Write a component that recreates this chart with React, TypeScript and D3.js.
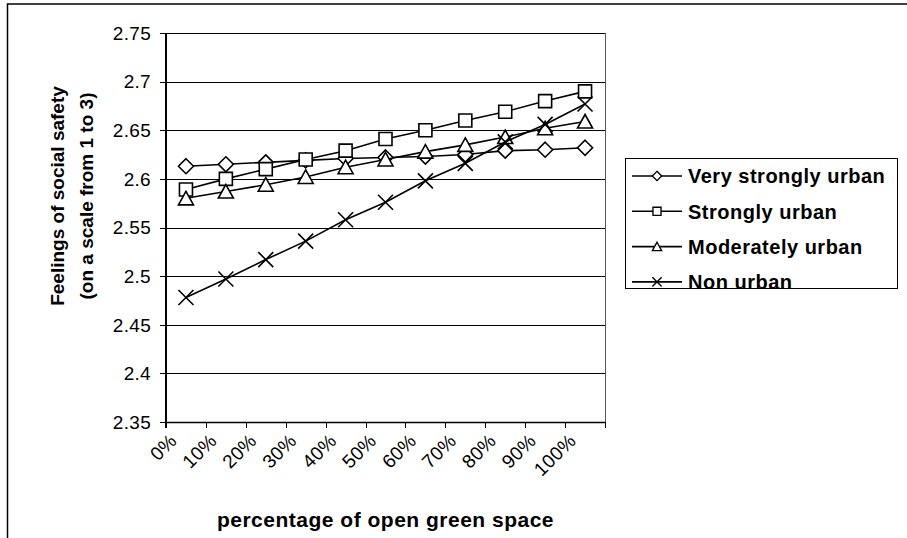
import React, { useEffect, useRef } from 'react';
import * as d3 from 'd3';

// categories on the x axis
const categories = ['0%', '10%', '20%', '30%', '40%', '50%', '60%', '70%', '80%', '90%', '100%'];

// series values
const veryStronglyUrban = [2.613, 2.615, 2.617, 2.619, 2.621, 2.622, 2.623, 2.625, 2.629, 2.630, 2.632];
const stronglyUrban = [2.589, 2.600, 2.610, 2.620, 2.629, 2.641, 2.650, 2.660, 2.669, 2.680, 2.690];
const moderatelyUrban = [2.580, 2.587, 2.594, 2.602, 2.612, 2.620, 2.628, 2.635, 2.643, 2.652, 2.659];
const nonUrban = [2.478, 2.497, 2.517, 2.536, 2.558, 2.576, 2.598, 2.616, 2.638, 2.656, 2.677];

const seriesNames = ['Very strongly urban', 'Strongly urban', 'Moderately urban', 'Non urban'];
const yTicks = [2.35, 2.4, 2.45, 2.5, 2.55, 2.6, 2.65, 2.7, 2.75];

const FONT = '"Liberation Sans", Arial, sans-serif';

// marker shapes as path strings, centred on 0,0
function markerPath(type: string) {
    if (type === 'diamond') return 'M0,-7.5L7.5,0L0,7.5L-7.5,0Z';
    if (type === 'square') return 'M-6.5,-6.5H6.5V6.5H-6.5Z';
    if (type === 'triangle') return 'M0,-7L7.5,6.5H-7.5Z';
    return 'M-7.5,-7.5L7.5,7.5M7.5,-7.5L-7.5,7.5';
}

export default function App() {
    const ref = useRef<SVGSVGElement>(null);

    useEffect(() => {
        const svg = d3.select(ref.current);
        svg.selectAll('*').remove();

        const left = 166, right = 605, top = 33, bottom = 422;

        const series = [
            { name: seriesNames[0], values: veryStronglyUrban, marker: 'diamond' },
            { name: seriesNames[1], values: stronglyUrban, marker: 'square' },
            { name: seriesNames[2], values: moderatelyUrban, marker: 'triangle' },
            { name: seriesNames[3], values: nonUrban, marker: 'x' }
        ];

        const xScale = d3.scaleBand().domain(categories).range([left, right]).padding(0);
        const yScale = d3.scaleLinear().domain([2.35, 2.75]).range([bottom, top]);
        const cx = (c: string) => (xScale(c) as number) + xScale.bandwidth() / 2;

        // outer chart border (only left and top are visible)
        svg.append('rect')
            .attr('x', 7.5).attr('y', 4)
            .attr('width', 950).attr('height', 600)
            .attr('fill', 'white')
            .attr('stroke', '#000')
            .attr('stroke-width', 1.5);

        // grid lines
        svg.append('g')
            .selectAll('line')
            .data(yTicks)
            .enter()
            .append('line')
            .attr('x1', left - 6)
            .attr('x2', right)
            .attr('y1', d => Math.round(yScale(d)) + 0.5)
            .attr('y2', d => Math.round(yScale(d)) + 0.5)
            .attr('stroke', '#000')
            .attr('stroke-width', 1);

        // right edge of plot
        svg.append('line')
            .attr('x1', right + 0.5).attr('x2', right + 0.5)
            .attr('y1', top).attr('y2', bottom)
            .attr('stroke', '#555');

        // y axis line
        svg.append('line')
            .attr('x1', left).attr('x2', left)
            .attr('y1', top).attr('y2', bottom + 6)
            .attr('stroke', '#000')
            .attr('stroke-width', 2);

        // x axis line and ticks
        svg.append('line')
            .attr('x1', left).attr('x2', right)
            .attr('y1', bottom + 0.5).attr('y2', bottom + 0.5)
            .attr('stroke', '#000')
            .attr('stroke-width', 1.5);

        svg.append('g')
            .selectAll('line')
            .data(categories.slice(1).concat(['end']))
            .enter()
            .append('line')
            .attr('x1', (d, i) => Math.round(left + xScale.bandwidth() * (i + 1)) + 0.5)
            .attr('x2', (d, i) => Math.round(left + xScale.bandwidth() * (i + 1)) + 0.5)
            .attr('y1', bottom)
            .attr('y2', bottom + 6)
            .attr('stroke', '#000');

        // y tick labels
        svg.append('g')
            .selectAll('text')
            .data(yTicks)
            .enter()
            .append('text')
            .attr('x', 151)
            .attr('y', d => yScale(d))
            .attr('dy', '0.36em')
            .attr('text-anchor', 'end')
            .attr('font-family', FONT)
            .attr('font-size', 19)
            .attr('letter-spacing', 0.3)
            .text(d => String(d));

        // x tick labels, rotated
        svg.append('g')
            .selectAll('text')
            .data(categories)
            .enter()
            .append('text')
            .attr('transform', d => 'translate(' + (cx(d) - 8) + ',' + 442 + ') rotate(-45)')
            .attr('text-anchor', 'end')
            .attr('font-family', FONT)
            .attr('font-size', 19)
            .attr('letter-spacing', 0.3)
            .text(d => d);

        // axis titles
        svg.append('text')
            .attr('x', (left + right) / 2)
            .attr('y', 527)
            .attr('text-anchor', 'middle')
            .attr('font-family', FONT)
            .attr('font-weight', 'bold')
            .attr('font-size', 21)
            .attr('letter-spacing', 0.5)
            .text('percentage of open green space');

        const yTitle = svg.append('text')
            .attr('transform', 'translate(64,196) rotate(-90)')
            .attr('text-anchor', 'middle')
            .attr('font-family', FONT)
            .attr('font-weight', 'bold')
            .attr('font-size', 19);
        yTitle.append('tspan').attr('x', 0).attr('y', 0).text('Feelings of social safety');
        yTitle.append('tspan').attr('x', 0).attr('y', 29).text('(on a scale from 1 to 3)');

        // series lines and markers
        const line = d3.line<number>()
            .x((d, i) => cx(categories[i]))
            .y(d => yScale(d));

        series.forEach(s => {
            const g = svg.append('g');
            g.append('path')
                .attr('d', line(s.values))
                .attr('fill', 'none')
                .attr('stroke', '#000')
                .attr('stroke-width', 1.6);
            g.selectAll('.marker')
                .data(s.values)
                .enter()
                .append('path')
                .attr('class', 'marker')
                .attr('d', markerPath(s.marker))
                .attr('transform', (d, i) => 'translate(' + cx(categories[i]) + ',' + yScale(d) + ')')
                .attr('fill', s.marker === 'x' ? 'none' : 'white')
                .attr('stroke', '#000')
                .attr('stroke-width', 1.6);
        });

        // legend
        const legend = svg.append('g');
        legend.append('rect')
            .attr('x', 625.5).attr('y', 158.5)
            .attr('width', 272).attr('height', 130)
            .attr('fill', 'white')
            .attr('stroke', '#000');

        series.forEach((s, i) => {
            const y = 176 + i * 35.3;
            legend.append('line')
                .attr('x1', 632).attr('x2', 682)
                .attr('y1', y).attr('y2', y)
                .attr('stroke', '#000')
                .attr('stroke-width', 1.6);
            legend.append('path')
                .attr('d', markerPath(s.marker))
                .attr('transform', 'translate(657,' + y + ') scale(0.62)')
                .attr('fill', s.marker === 'x' ? 'none' : 'white')
                .attr('stroke', '#000')
                .attr('stroke-width', 2.2);
            legend.append('text')
                .attr('x', 688)
                .attr('y', y)
                .attr('dy', '0.36em')
                .attr('font-family', FONT)
                .attr('font-weight', 'bold')
                .attr('font-size', 20)
                .attr('letter-spacing', 0.5)
                .text(s.name);
        });
    }, []);

    return (
        <svg ref={ref}
             width={907}
             height={538}
             style={{ position: 'absolute', left: 0, top: 0, background: 'white' }} />
    );
}
